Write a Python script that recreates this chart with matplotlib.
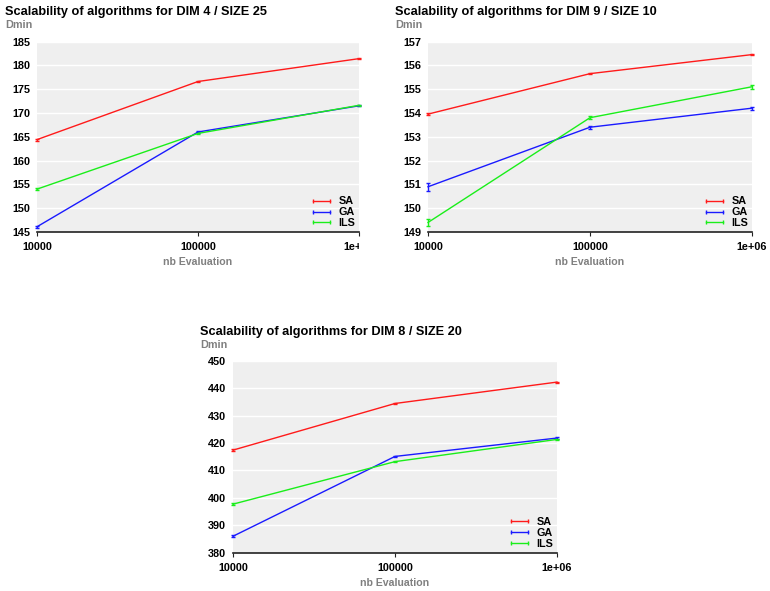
import matplotlib
matplotlib.use("Agg")
import matplotlib.pyplot as plt
from matplotlib.lines import Line2D
from matplotlib.transforms import Bbox, TransformedBbox

plt.rcParams['font.family'] = ['Liberation Sans', 'DejaVu Sans']
plt.rcParams['font.weight'] = 'bold'

evals = [10000, 100000, 1000000]
xtick_labels = ["10000", "100000", "1e+06"]
algos = ["SA", "GA", "ILS"]
colors = {"SA": "#ff1a1a", "GA": "#1a1aff", "ILS": "#1aee1a"}

# Panel 1: DIM 4 / SIZE 25
p1_title = "Scalability of algorithms for DIM 4 / SIZE 25"
p1_sa = [164.4, 176.6, 181.4]
p1_ga = [146.1, 166.0, 171.5]
p1_ils = [154.0, 165.7, 171.6]
p1_sa_err = [0.2, 0.1, 0.1]
p1_ga_err = [0.2, 0.2, 0.1]
p1_ils_err = [0.25, 0.2, 0.1]
p1_yticks = [145, 150, 155, 160, 165, 170, 175, 180, 185]

# Panel 2: DIM 9 / SIZE 10
p2_title = "Scalability of algorithms for DIM 9 / SIZE 10"
p2_sa = [153.95, 155.65, 156.45]
p2_ga = [150.9, 153.4, 154.2]
p2_ils = [149.4, 153.8, 155.1]
p2_sa_err = [0.03, 0.02, 0.02]
p2_ga_err = [0.17, 0.06, 0.07]
p2_ils_err = [0.15, 0.06, 0.08]
p2_yticks = [149, 150, 151, 152, 153, 154, 155, 156, 157]

# Panel 3: DIM 8 / SIZE 20
p3_title = "Scalability of algorithms for DIM 8 / SIZE 20"
p3_sa = [417.4, 434.4, 442.2]
p3_ga = [386.0, 415.1, 421.8]
p3_ils = [397.7, 413.2, 421.3]
p3_sa_err = [0.3, 0.3, 0.2]
p3_ga_err = [0.3, 0.3, 0.3]
p3_ils_err = [0.4, 0.3, 0.3]
p3_yticks = [380, 390, 400, 410, 420, 430, 440, 450]

W, H = 770, 591
fig = plt.figure(figsize=(W / 100, H / 100), dpi=100)
fig.patch.set_facecolor("white")

GREY = "#808080"


def px_axes(left, right, top, bottom):
    return fig.add_axes([left / W, (H - bottom) / H, (right - left) / W, (bottom - top) / H])


def panel(ax, title, series, errs, yticks, title_x, title_y, dmin_y):
    ax.set_facecolor("#efefef")
    for s in ["top", "right", "left"]:
        ax.spines[s].set_visible(False)
    ax.spines["bottom"].set_color("#222222")
    ax.spines["bottom"].set_linewidth(1.2)
    ax.set_xscale("log")
    ax.set_xlim(evals[0], evals[-1])
    ax.set_ylim(yticks[0], yticks[-1])
    ax.set_yticks(yticks)
    ax.set_yticklabels([str(v) for v in yticks])
    ax.set_xticks(evals)
    ax.set_xticklabels(xtick_labels)
    ax.minorticks_off()
    ax.tick_params(axis="y", length=0, pad=5, labelsize=7.8, labelcolor="black")
    ax.tick_params(axis="x", length=3, width=0.8, color="#222222", pad=4.5, labelsize=7.8)
    ax.yaxis.grid(True, color="white", linewidth=1.0)
    ax.set_axisbelow(True)
    for name, vals, err in zip(algos, series, errs):
        ax.errorbar(evals, vals, yerr=err, color=colors[name], lw=1.0,
                    capsize=1.6, capthick=1.0, elinewidth=1.0, clip_on=False, zorder=3)
    handles = [Line2D([], [], color=colors[a], lw=1.0, marker="|", markersize=3.5,
                      markeredgewidth=1.0) for a in algos]
    ax.legend(handles, algos, loc="lower right", frameon=False, numpoints=2,
              fontsize=7.8, handlelength=2.1, handletextpad=0.5, labelspacing=0.08,
              borderaxespad=0.1, borderpad=0.25)
    fig.text(title_x / W, 1 - title_y / H, title, fontsize=9.2, fontweight="bold",
             color="black", ha="left", va="center")
    fig.text(title_x / W, 1 - dmin_y / H, "Dmin", fontsize=7.8, fontweight="bold",
             color=GREY, ha="left", va="center")
    ax.set_xlabel("nb Evaluation", fontsize=7.6, fontweight="bold", color=GREY, labelpad=3.5)


ax1 = px_axes(37, 359, 41.5, 232)
panel(ax1, p1_title, [p1_sa, p1_ga, p1_ils], [p1_sa_err, p1_ga_err, p1_ils_err],
      p1_yticks, 5, 11.5, 24.5)

ax2 = px_axes(428, 752, 41.5, 232)
panel(ax2, p2_title, [p2_sa, p2_ga, p2_ils], [p2_sa_err, p2_ga_err, p2_ils_err],
      p2_yticks, 395, 12.5, 25)

ax3 = px_axes(233, 557, 360.7, 552.7)
panel(ax3, p3_title, [p3_sa, p3_ga, p3_ils], [p3_sa_err, p3_ga_err, p3_ils_err],
      p3_yticks, 200, 332, 344.5)

clip = TransformedBbox(Bbox([[0, 0], [359 / W, 1]]), fig.transFigure)
for lbl in ax1.get_xticklabels():
    lbl.set_clip_box(clip)
    lbl.set_clip_on(True)

fig.savefig("out.png", dpi=100)
